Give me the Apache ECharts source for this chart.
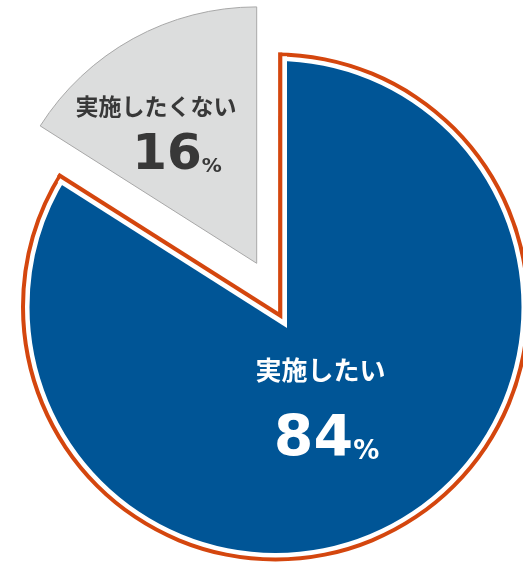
<!DOCTYPE html>
<html>
<head>
<meta charset="utf-8">
<script src="https://cdn.jsdelivr.net/npm/echarts@6/dist/echarts.min.js"></script>
<style>
  html, body { margin: 0; padding: 0; background: #fff; }
  #main { width: 523px; height: 563px; }
</style>
</head>
<body>
<div id="main"></div>
<script>
// data
const categories = ['実施したい', '実施したくない'];
const values = [84, 16];
const unit = '%';

const BLUE = '#005596';
const ORANGE = '#d4460e';
const GREY = '#dcdddd';
const NONE = 'rgba(0,0,0,0)';

let myChart = echarts.init(document.getElementById('main'));

// geometry of the main disc (px)
const C = [275.5, 307];
const total = values[0] + values[1];
const half = values[1] / total * Math.PI;           // half angle of the gap wedge
const U = [-Math.sin(half), -Math.cos(half)];       // gap bisector, screen coords

function gapCenter(inset) {
  let t = inset / Math.sin(half);
  return [C[0] - U[0] * t, C[1] - U[1] * t];
}
function gapRadius(inset, r) {
  let t = inset / Math.sin(half);
  return Math.sqrt(r * r + t * t + 2 * r * t * Math.cos(half));
}

function pieData(colors) {
  return categories.map((name, i) => ({
    name: name,
    value: values[i],
    itemStyle: { color: colors[i], borderWidth: 0 }
  }));
}

function layer(center, radius, colors) {
  return {
    type: 'pie',
    silent: true,
    animation: false,
    center: center,
    radius: radius,
    startAngle: 90,
    clockwise: true,
    label: { show: false },
    labelLine: { show: false },
    emphasis: { disabled: true },
    data: pieData(colors)
  };
}

const series = [
  layer(C, 254.5, [ORANGE, NONE]),
  layer(C, 250.5, ['#ffffff', NONE]),
  layer(C, 246, [BLUE, NONE]),
  layer(gapCenter(11.5), gapRadius(11.5, 250.5), [NONE, '#ffffff']),
  layer(gapCenter(6.8), gapRadius(6.8, 254.5), [NONE, ORANGE]),
  layer(gapCenter(2.6), 340, [NONE, '#ffffff'])
];

// exploded grey slice, carries both labels
const labelPos = [[326.5, 421], [177, 141]];
const NUMFONT = 'DejaVu Sans';
series.push({
  type: 'pie',
  silent: true,
  animation: false,
  center: [256.7, 263.3],
  radius: 256.4,
  startAngle: 90,
  clockwise: true,
  emphasis: { disabled: true },
  labelLine: { show: false },
  label: {
    show: true,
    position: 'inside',
    fontFamily: 'Noto Sans CJK JP'
  },
  labelLayout: function (params) {
    let p = labelPos[params.dataIndex];
    return { x: p[0], y: p[1], align: 'center', verticalAlign: 'middle' };
  },
  data: [
    {
      name: categories[0],
      value: values[0],
      itemStyle: { color: NONE, borderWidth: 0 },
      label: {
        formatter: '{n|{b}}\n{v|{c}}{p|' + unit + '}',
        rich: {
          n: { fontSize: 26, fontWeight: 'bold', color: '#ffffff', lineHeight: 40, padding: [0, 12, 0, 0], fontFamily: 'Noto Sans CJK JP' },
          v: { fontSize: 57, fontWeight: 'bold', color: '#ffffff', lineHeight: 101, fontFamily: NUMFONT },
          p: { fontSize: 26, fontWeight: 'bold', color: '#ffffff', verticalAlign: 'middle', padding: [22, 0, 0, 0], fontFamily: NUMFONT }
        }
      }
    },
    {
      name: categories[1],
      value: values[1],
      itemStyle: { color: GREY, borderColor: '#a8a8a8', borderWidth: 1 },
      label: {
        formatter: '{n|{b}}\n{v|{c}}{p|' + unit + '}',
        rich: {
          n: { fontSize: 23, fontWeight: 'bold', color: '#383838', lineHeight: 30, padding: [0, 42, 0, 0], fontFamily: 'Noto Sans CJK JP' },
          v: { fontSize: 50, fontWeight: 'bold', color: '#383838', lineHeight: 69, fontFamily: NUMFONT },
          p: { fontSize: 20, fontWeight: 'bold', color: '#383838', verticalAlign: 'middle', padding: [21, 0, 0, 0], fontFamily: NUMFONT }
        }
      }
    }
  ]
});

myChart.setOption({
  animation: false,
  series: series
});
</script>
</body>
</html>
